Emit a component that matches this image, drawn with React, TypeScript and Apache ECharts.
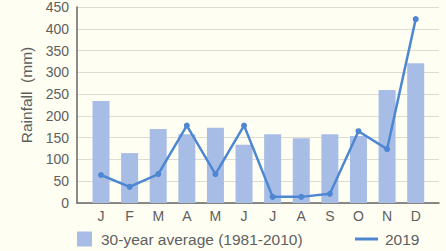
import React, { useEffect, useRef } from "react";
import * as echarts from "echarts";

const months = ["J", "F", "M", "A", "M", "J", "J", "A", "S", "O", "N", "D"];
const avg30 = [233, 114, 169, 157, 172, 133, 157, 148, 157, 153, 258, 319];
const rain2019 = [64, 37, 66, 177, 66, 177, 14, 14, 21, 164, 123, 420];
const yTicks = { min: 0, max: 450, interval: 50 };

export default function App() {
  const ref = useRef<HTMLDivElement>(null);
  useEffect(() => {
    const chart = echarts.init(ref.current!, null, { renderer: "svg" });
    const textColor = "#5f5f5f";
    const font = "Liberation Sans, Arial, sans-serif";
    chart.setOption({
      animation: false,
      backgroundColor: "#fefef3",
      textStyle: { fontFamily: font },
      grid: [
        { left: 77, right: 7, top: 6, bottom: 48 },
        { left: 86.7, right: 16, top: 6, bottom: 48 },
      ],
      xAxis: [
        {
          gridIndex: 0,
          type: "category",
          data: months,
          axisLine: { show: true, lineStyle: { color: "#666666", width: 1.5 } },
          axisTick: { show: false },
          axisLabel: { show: false },
        },
        {
          gridIndex: 1,
          type: "category",
          data: months,
          axisLine: { show: false },
          axisTick: { show: false },
          axisLabel: { color: textColor, fontSize: 14, margin: 6, fontFamily: font },
        },
      ],
      yAxis: [
        {
          gridIndex: 0,
          type: "value",
          min: yTicks.min,
          max: yTicks.max,
          interval: yTicks.interval,
          axisLine: { show: true, lineStyle: { color: "#666666", width: 1.5 } },
          axisTick: { show: false },
          axisLabel: { color: textColor, fontSize: 14, margin: 8, fontFamily: font },
          splitLine: { lineStyle: { color: "#dcdcd2", width: 1 } },
        },
        {
          gridIndex: 1,
          type: "value",
          min: yTicks.min,
          max: yTicks.max,
          interval: yTicks.interval,
          show: false,
          splitLine: { show: false },
        },
      ],
      legend: [
        {
          left: 72,
          top: 226,
          itemWidth: 15,
          itemHeight: 15,
          icon: "rect",
          data: ["30-year average (1981-2010)"],
          textStyle: { color: textColor, fontSize: 15.5, fontFamily: font, padding: [0, 0, 0, 4] },
        },
        {
          left: 350,
          top: 226,
          itemWidth: 23,
          itemHeight: 3,
          icon: "rect",
          data: ["2019"],
          textStyle: { color: textColor, fontSize: 15.5, fontFamily: font, padding: [0, 0, 0, 2] },
        },
      ],
      graphic: [
        {
          type: "text",
          x: 26,
          y: 95,
          rotation: Math.PI / 2,
          style: {
            text: "Rainfall  (mm)",
            fill: textColor,
            font: "15.5px Liberation Sans, Arial, sans-serif",
            align: "center",
            verticalAlign: "middle",
          },
        },
      ],
      series: [
        {
          name: "30-year average (1981-2010)",
          type: "bar",
          xAxisIndex: 1,
          yAxisIndex: 1,
          data: avg30,
          barWidth: 17,
          itemStyle: { color: "#a8bde6" },
        },
        {
          name: "2019",
          type: "line",
          xAxisIndex: 1,
          yAxisIndex: 1,
          data: rain2019,
          symbol: "circle",
          symbolSize: 6,
          lineStyle: { color: "#4d87d1", width: 2.5 },
          itemStyle: { color: "#4d87d1" },
        },
      ],
    });
    return () => chart.dispose();
  }, []);
  return (
    <div
      ref={ref}
      style={{ position: "fixed", left: 0, top: 0, width: 446, height: 251 }}
    />
  );
}
